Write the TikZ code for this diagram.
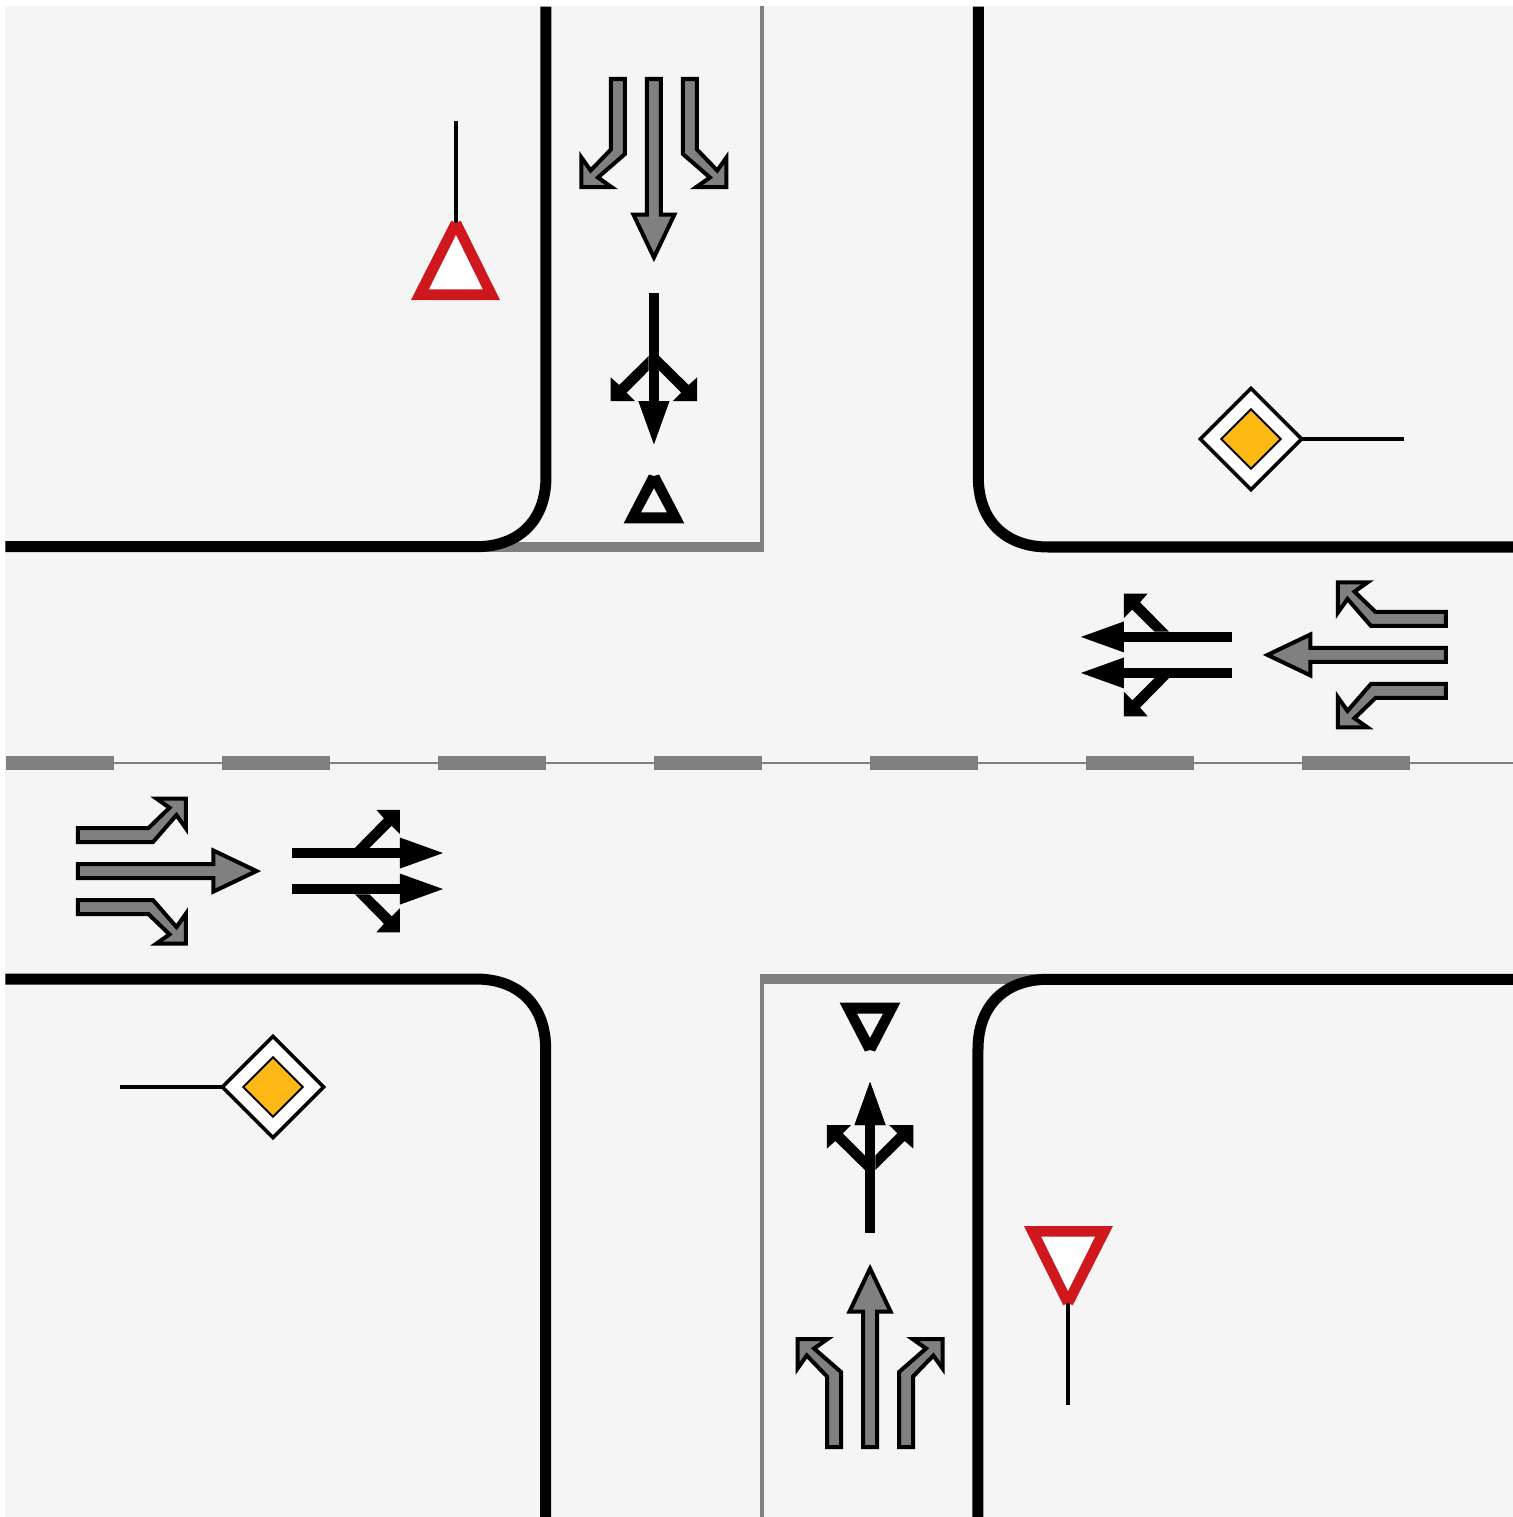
\documentclass[tikz,border=0pt]{standalone}
\usepackage{xcolor}
\definecolor{colorGround}{HTML}{F5F5F5}
\definecolor{colorMark}{HTML}{808080}
\definecolor{colorGiveWay}{HTML}{CE181E}
\definecolor{colorPriority}{HTML}{FDB813}
\newcommand{\roadCorner}{
  \draw[kerb] (-216,756.5) -- (-216,286.3) .. controls (-216,242.9) and (-242.6,216.3) .. (-286,216.3) -- (-756.5,216.3);
}
\newcommand{\grayLanes}{
  \draw[grayArrow] (-7,684) -- (7,684) -- (7,548.5) -- (20.5,548.5) -- (0,505.5) -- (-20.5,548.5) -- (-7,548.5) -- cycle;
  \foreach \s in {1,-1} {
    \draw[grayArrow, xscale=\s] (-43,684) -- (-29,684) -- (-29,609) -- (-56,585.5) -- (-42.5,576) -- (-72.5,576) -- (-72.5,605.5) -- (-63.3,592.5) -- (-43,613.5) -- cycle;
  }
}
\newcommand{\blackLane}{
  \fill[blackArrow] (-5.2,470) rectangle (5.2,362);
  \fill[blackArrow] (-15.5,362) -- (15.5,362) -- (0,319) -- cycle;
  \fill[blackArrow] (-5.2,407) -- (-34.7,378) -- (-43.3,385.7) -- (-43.3,362) -- (-19,362) -- (-27.3,370.3) -- (-5.2,392.5) -- cycle;
}
\tikzset{
  kerb/.style={black, line width=0.11cm},
  stopMark/.style={colorMark, line width=0.1cm},
  edgeMark/.style={colorMark, line width=0.035cm},
  signPole/.style={black, line width=0.033cm},
  grayArrow/.style={draw=black, fill=colorMark, line width=0.04cm, miter limit=10},
  blackArrow/.style={fill=black},
  giveWayArm/.pic={
    \draw[edgeMark] (0,800) -- (0,216.3);
    \draw[stopMark] (-286,216.3) -- (1.75,216.3);
    \roadCorner
    \begin{scope}[xshift=-1.08cm]
      \grayLanes
      \blackLane
      \begin{scope}[xscale=-1]
        \blackLane
      \end{scope}
    \end{scope}
    \fill[blackArrow, even odd rule] (-138.3,239.7) -- (-77.7,239.7) -- (-103,288.5) -- (-108,287) -- (-113,288.5) -- cycle (-121,250.7) -- (-95,250.7) -- (-108,275) -- cycle;
    \draw[signPole] (-306,642) -- (-306,538);
    \fill[colorGiveWay] (-351,463) -- (-262,463) -- (-301.3,542.3) -- (-306,540) -- (-310.7,542.3) -- cycle;
    \fill[white] (-333,473.7) -- (-279.3,473.7) -- (-306,528) -- cycle;
  },
  priorityArm/.pic={
    \roadCorner
    \begin{scope}[xshift=-1.08cm]
      \grayLanes
    \end{scope}
    \begin{scope}[xshift=-1.26cm]
      \blackLane
    \end{scope}
    \begin{scope}[xshift=-0.9cm, xscale=-1]
      \blackLane
    \end{scope}
    \draw[signPole] (-324,539) -- (-324,642);
    \draw[draw=black, fill=white, line width=0.035cm] (-374.6,489) -- (-324,539.6) -- (-273.4,489) -- (-324,438.4) -- cycle;
    \draw[draw=black, fill=colorPriority, line width=0.02cm] (-353.7,489) -- (-324,518.7) -- (-294.3,489) -- (-324,459.3) -- cycle;
  }
}
\begin{document}
\begin{tikzpicture}[x=0.01cm, y=0.01cm]
\useasboundingbox (-762,763) rectangle (751,-754);
\fill[colorGround] (-757,757) rectangle (751,-754);
\clip (-757,757) rectangle (751,-754);
\draw[colorMark, line width=0.018cm] (-756,0) -- (751,0);
\draw[colorMark, line width=0.14cm, dash pattern=on 1.0795cm off 1.0795cm] (-756,0) -- (751,0);
\foreach \r in {0,180} {
  \pic[rotate=\r] {giveWayArm};
}
\foreach \r in {90,270} {
  \pic[rotate=\r] {priorityArm};
}
\end{tikzpicture}
\end{document}
